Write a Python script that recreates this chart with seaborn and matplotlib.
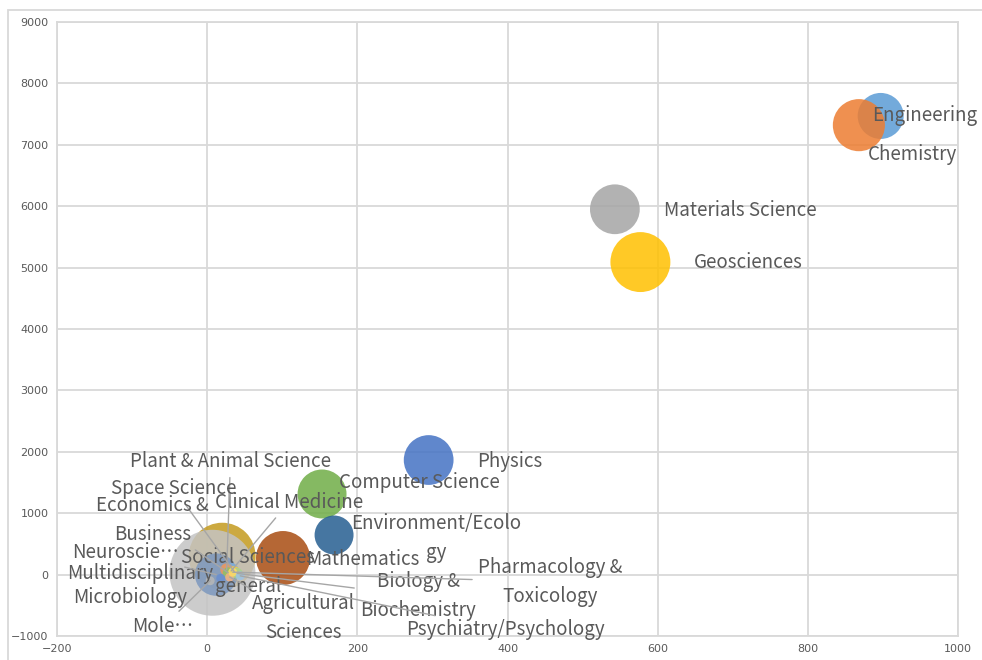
import matplotlib
matplotlib.use("Agg")
import matplotlib.pyplot as plt
import seaborn as sns
import pandas as pd
from matplotlib.patches import Rectangle

# ---------------- data ----------------
fields = ["Engineering", "Chemistry", "Materials Science", "Geosciences", "Physics",
          "Computer Science", "Environment/Ecology", "Mathematics",
          "Social Sciences, general", "Multidisciplinary", "Neuroscience & Behavior",
          "Clinical Medicine", "Plant & Animal Science", "Space Science",
          "Economics & Business", "Microbiology", "Molecular Biology & Genetics",
          "Agricultural Sciences", "Biology & Biochemistry",
          "Pharmacology & Toxicology", "Psychiatry/Psychology"]
x_vals = [897, 868, 543, 577, 295, 153, 169, 101,
          20, 7, 12, 32, 26, 36, 28, 18, 4, 30, 40, 34, 44]
y_vals = [7470, 7320, 5950, 5090, 1866, 1313, 645, 270,
          300, 30, 0, 60, 80, 50, 30, -60, -100, -40, 20, 40, -20]
bubble = [53, 68, 62, 90, 62, 60, 38, 73,
          112, 185, 45, 6, 4, 3, 3, 2, 2, 2, 3, 2, 2]
labels = ["Engineering", "Chemistry", "Materials Science", "Geosciences", "Physics",
          "Computer Science", "Environment/Ecolo\ngy", "Mathematics",
          "Social Sciences\ngeneral", "Multidisciplinary", "Neuroscie\u2026",
          "Clinical Medicine", "Plant & Animal Science", "Space Science",
          "Economics &\nBusiness", "Microbiology", "Mole\u2026",
          "Agricultural\nSciences", "Biology &\nBiochemistry",
          "Pharmacology &\nToxicology", "Psychiatry/Psychology"]
x_ticks = [-200, 0, 200, 400, 600, 800, 1000]
y_ticks = [-1000, 0, 1000, 2000, 3000, 4000, 5000, 6000, 7000, 8000, 9000]

# ---------------- layout / style ----------------
colors = ["#5B9BD5", "#ED7D31", "#A5A5A5", "#FFC000", "#4472C4",
          "#70AD47", "#255E91", "#A84C12",
          "#C49A1E", "#C4C4C4", "#7C98BE",
          "#7CAFDD", "#F1975A", "#FFCD33", "#8CC168", "#698ED0", "#B7B7B7",
          "#F4B183", "#A9D18E", "#FFD966", "#9DC3E6"]
# label anchor positions (data coords), horizontal alignment, leader line flag
label_pos = [(885, 7470, "left", False), (939, 6850, "center", False),
             (608, 5938, "left", False), (648, 5091, "left", False),
             (359, 1850, "left", False), (283, 1508, "center", False),
             (305, 596, "center", False), (207, 254, "center", False),
             (55, 42, "center", False), (-89, 10, "center", False),
             (-109, 352, "center", True), (109, 1182, "center", True),
             (31, 1850, "center", True), (-45, 1410, "center", True),
             (-73, 889, "center", True), (-103, -365, "center", False),
             (-59, -853, "center", True), (128, -707, "center", True),
             (281, -349, "center", True), (457, -120, "center", True),
             (397, -902, "center", True)]

sns.set_theme(style="white")
plt.rcParams["font.family"] = ["Noto Sans CJK SC", "DejaVu Sans"]

W, H = 982, 660
fig = plt.figure(figsize=(W / 100, H / 100), dpi=100)
ax = fig.add_axes([57 / W, 24 / H, 901 / W, 614 / H])

df = pd.DataFrame({"field": fields, "x": x_vals, "y": y_vals, "bubble": bubble})
maxb = max(bubble)
k = 20.7  # pt^2 per bubble unit
sns.scatterplot(data=df, x="x", y="y", hue="field", palette=dict(zip(fields, colors)),
                size="bubble", sizes=(0, k * maxb), size_norm=(0, maxb),
                alpha=0.85, edgecolor="none", legend=False, ax=ax, zorder=3)

ax.set_xlim(-200, 1000)
ax.set_ylim(-1000, 9000)
ax.set_xticks(x_ticks)
ax.set_yticks(y_ticks)
ax.set_xlabel("")
ax.set_ylabel("")
ax.grid(True, color="#D9D9D9", linewidth=1.3, zorder=0)
ax.set_axisbelow(True)
for s in ax.spines.values():
    s.set_color("#D9D9D9")
    s.set_linewidth(1.3)
ax.tick_params(axis="both", length=0, labelsize=8, labelcolor="#595959", pad=6)
for t in ax.get_xticklabels() + ax.get_yticklabels():
    t.set_family(["DejaVu Sans"])

FS = 13.5
for lab, (lx, ly, ha, lead), px, py in zip(labels, label_pos, x_vals, y_vals):
    if lead:
        ax.annotate(lab, xy=(px, py), xytext=(lx, ly), ha=ha, va="center",
                    fontsize=FS, color="#595959", linespacing=1.5, zorder=5,
                    multialignment="center",
                    arrowprops=dict(arrowstyle="-", color="#A6A6A6", lw=1.0,
                                    shrinkA=2, shrinkB=0))
    else:
        ax.text(lx, ly, lab, ha=ha, va="center", fontsize=FS, color="#595959",
                linespacing=1.5, multialignment="center", zorder=5)

fig.patches.append(Rectangle((8 / W, -0.02), 1.05, 1 - 10 / H + 0.02,
                             transform=fig.transFigure, fill=False,
                             edgecolor="#D9D9D9", linewidth=1.3))

fig.savefig("out.png", dpi=100)
